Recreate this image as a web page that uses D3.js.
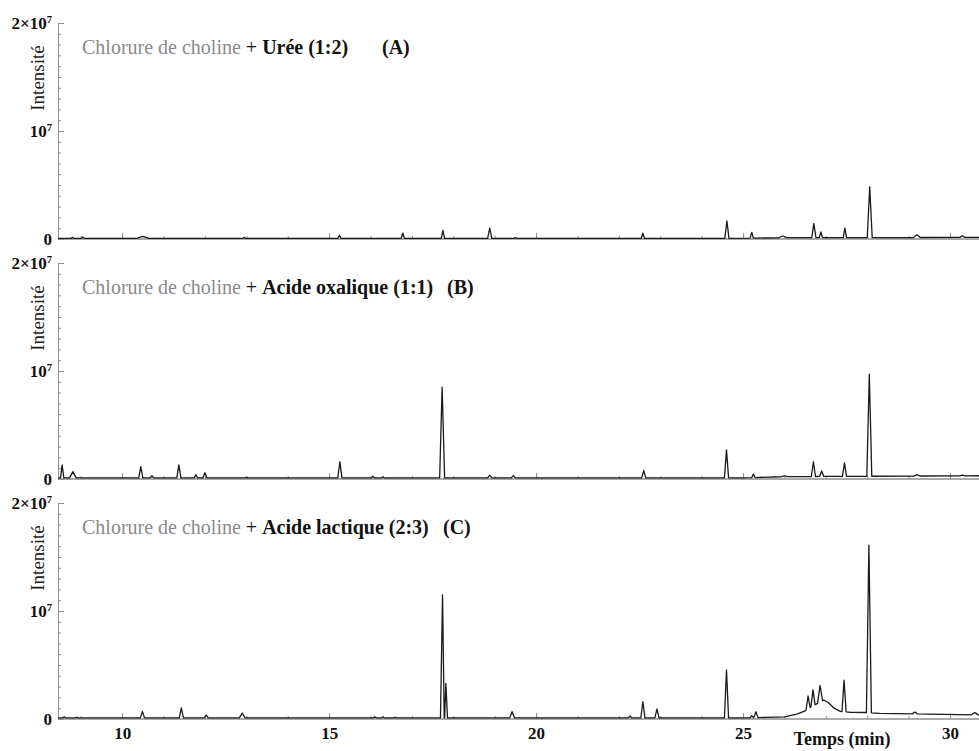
<!DOCTYPE html>
<html><head><meta charset="utf-8">
<script src="https://cdn.jsdelivr.net/npm/d3@7"></script>
<style>
html,body{margin:0;padding:0;background:#fff;}
svg{display:block;}
</style></head>
<body><svg id="chart" width="979" height="751"></svg>
<script>
// ---------- data (intensity in units of 1e6) ----------
const panelIds = ["A", "B", "C"];
const titleGray = "Chlorure de choline";
const titleBlack = ["Urée (1:2)", "Acide oxalique (1:1)", "Acide lactique (2:3)"];
const panelTags = ["(A)", "(B)", "(C)"];
const xTickLabels = [10, 15, 20, 25, 30];
const yTickLabels = ["0", "10|7", "2×10|7"];
const yTickValues = [0, 10, 20];
const xLabel = "Temps (min)";
const yLabel = "Intensité";

// peaks: [time (min), apex intensity (1e6), half width (min)]
const peaksA = [
  [8.8,0.15,0.04],[9.05,0.2,0.04],[10.5,0.25,0.15],[12.95,0.15,0.04],[15.25,0.35,0.04],
  [16.78,0.55,0.04],[17.75,0.8,0.04],[18.88,1.0,0.05],[19.5,0.12,0.04],[22.58,0.53,0.04],
  [24.61,1.67,0.05],[25.21,0.62,0.04],[25.96,0.28,0.1],[26.71,1.45,0.05],[26.88,0.65,0.04],
  [27.46,1.0,0.04],[28.06,4.84,0.06],[29.2,0.4,0.08],[30.3,0.3,0.06]
];
const baseA = [[8.45,0.05],[24.5,0.05],[26.0,0.12],[30.7,0.15]];

const peaksB = [
  [8.55,1.3,0.04],[8.81,0.68,0.08],[10.45,1.14,0.05],[10.72,0.3,0.04],[11.37,1.3,0.05],
  [11.78,0.4,0.04],[12.0,0.58,0.05],[13.0,0.15,0.04],[15.26,1.6,0.05],[16.06,0.25,0.04],
  [16.3,0.2,0.04],[17.73,8.5,0.06],[18.88,0.35,0.05],[19.45,0.3,0.05],[22.6,0.8,0.05],
  [24.6,2.7,0.05],[25.25,0.45,0.04],[26.0,0.3,0.08],[26.7,1.6,0.05],[26.9,0.75,0.05],
  [27.45,1.5,0.05],[28.05,9.7,0.06],[29.2,0.4,0.07],[30.3,0.35,0.06]
];
const baseB = [[8.45,0.1],[25.0,0.1],[26.0,0.22],[30.7,0.3]];

const peaksC = [
  [8.6,0.2,0.04],[8.9,0.15,0.05],[10.49,0.71,0.05],[11.43,1.02,0.05],[12.03,0.37,0.05],
  [12.9,0.55,0.07],[16.1,0.2,0.04],[16.3,0.2,0.04],[16.6,0.15,0.04],[17.74,11.5,0.05],
  [17.82,3.3,0.04],[19.42,0.68,0.06],[22.27,0.28,0.04],[22.58,1.6,0.05],[22.92,0.93,0.05],
  [24.6,4.54,0.05],[25.21,0.3,0.04],[25.31,0.68,0.05],[26.57,2.13,0.05],[26.69,2.7,0.05],
  [26.86,3.1,0.06],[27.44,3.6,0.05],[28.04,16.1,0.06],[29.15,0.65,0.06],[30.6,0.6,0.08]
];
const baseC = [[8.45,0.1],[25.0,0.1],[25.6,0.15],[26.0,0.2],[26.3,0.45],[26.5,0.75],
  [26.63,1.1],[26.78,1.4],[26.95,1.75],[27.05,1.55],[27.2,1.0],[27.35,0.7],[27.6,0.62],
  [28.0,0.6],[28.3,0.52],[29.5,0.45],[30.7,0.38]];

const peaks = [peaksA, peaksB, peaksC];
const bases = [baseA, baseB, baseC];

// ---------- layout ----------
const W = 979, H = 751;
const left = 58, right = 979;
const panelTop = [23, 263, 503];
const panelH = 216;
const axisColor = "#8f8f8f";
const serif = "'Liberation Serif','Times New Roman',Times,serif";

const svg = d3.select("#chart");
svg.append("rect").attr("width", W).attr("height", H).attr("fill", "#fff");

const x = d3.scaleLinear().domain([8.45, 30.7]).range([left, right]);

function buildTrace(pk, bs) {
  const baseScale = d3.scaleLinear().domain(bs.map(d => d[0])).range(bs.map(d => d[1]));
  let pts = bs.filter(b => !pk.some(p => b[0] > p[0] - p[2] && b[0] < p[0] + p[2]));
  pk.forEach(p => {
    pts.push([p[0] - p[2], baseScale(p[0] - p[2])]);
    pts.push([p[0], p[1]]);
    pts.push([p[0] + p[2], baseScale(p[0] + p[2])]);
  });
  pts.sort((a, b) => a[0] - b[0]);
  return pts;
}

function addSup(sel) {
  sel.each(function(d) {
    const t = d3.select(this);
    const parts = String(t.text()).split("|");
    t.text(parts[0]);
    if (parts[1]) {
      t.append("tspan").attr("dy", "-0.55em").attr("font-size", "0.62em").text(parts[1]);
    }
  });
}

panelIds.forEach((id, i) => {
  const top = panelTop[i], bottom = top + panelH;
  const y = d3.scaleLinear().domain([0, 20]).range([bottom, top]);
  const g = svg.append("g");

  // x axis (ticks pointing up)
  const gx = g.append("g").attr("transform", `translate(0,${bottom})`);
  gx.call(d3.axisTop(x).tickValues(d3.range(9, 31, 1)).tickSize(3).tickSizeOuter(0).tickFormat(""));
  gx.append("g").call(d3.axisTop(x).tickValues(xTickLabels).tickSize(6).tickSizeOuter(0).tickFormat(""));
  gx.selectAll("path,line").attr("stroke", axisColor);
  gx.selectAll(".domain").attr("d", `M${left},0H${right}`);

  // y axis
  const gy = g.append("g").attr("transform", `translate(${left},0)`);
  gy.call(d3.axisLeft(y).tickValues(d3.range(0, 21, 1)).tickSize(-3).tickSizeOuter(0).tickFormat(""));
  const gyM = gy.append("g").call(d3.axisLeft(y).tickValues(yTickValues).tickSize(-6).tickSizeOuter(0)
      .tickPadding(6).tickFormat((d, k) => yTickLabels[k]));
  gy.selectAll("path,line").attr("stroke", axisColor);
  gyM.select(".domain").remove();
  gyM.selectAll("text").attr("font-family", serif).attr("font-size", 17).attr("fill", "#111")
     .attr("font-weight", "bold").call(addSup);

  // y label
  g.append("text").attr("transform", `translate(44,${top + 55}) rotate(-90)`)
    .attr("text-anchor", "middle").attr("font-family", serif).attr("font-size", 19)
    .attr("fill", "#222").text(yLabel);

  // trace
  const line = d3.line().x(d => x(d[0])).y(d => y(d[1])).curve(d3.curveLinear);
  g.append("path").datum(buildTrace(peaks[i], bases[i]))
    .attr("d", line).attr("fill", "none").attr("stroke", "#1a1a1a")
    .attr("stroke-width", 1.3).attr("stroke-linejoin", "round");

  // title
  const tt = g.append("text").attr("x", 82).attr("y", top + 31)
    .attr("font-family", serif).attr("font-size", 20);
  tt.append("tspan").attr("fill", "#8a8a8a").text(titleGray + " ");
  tt.append("tspan").attr("fill", "#111").text("+ ");
  tt.append("tspan").attr("fill", "#111").attr("font-weight", "bold").text(titleBlack[i]);
  const tagX = [382, 447, 443][i];
  g.append("text").attr("x", tagX).attr("y", top + 31).attr("font-family", serif)
    .attr("font-size", 20).attr("font-weight", "bold").attr("fill", "#111").text(panelTags[i]);

  // x tick labels for bottom panel
  if (i === panelIds.length - 1) {
    const gl = g.append("g").attr("transform", `translate(0,${bottom})`);
    gl.call(d3.axisBottom(x).tickValues(xTickLabels).tickSize(0).tickPadding(8).tickFormat(d3.format("d")));
    gl.select(".domain").remove();
    gl.selectAll("text").attr("font-family", serif).attr("font-size", 17).attr("fill", "#111")
      .attr("font-weight", "bold");
    g.append("text").attr("x", 842).attr("y", 745).attr("text-anchor", "middle")
      .attr("font-family", serif).attr("font-size", 18).attr("font-weight", "bold")
      .attr("fill", "#111").text(xLabel);
  }
});
</script></body></html>
